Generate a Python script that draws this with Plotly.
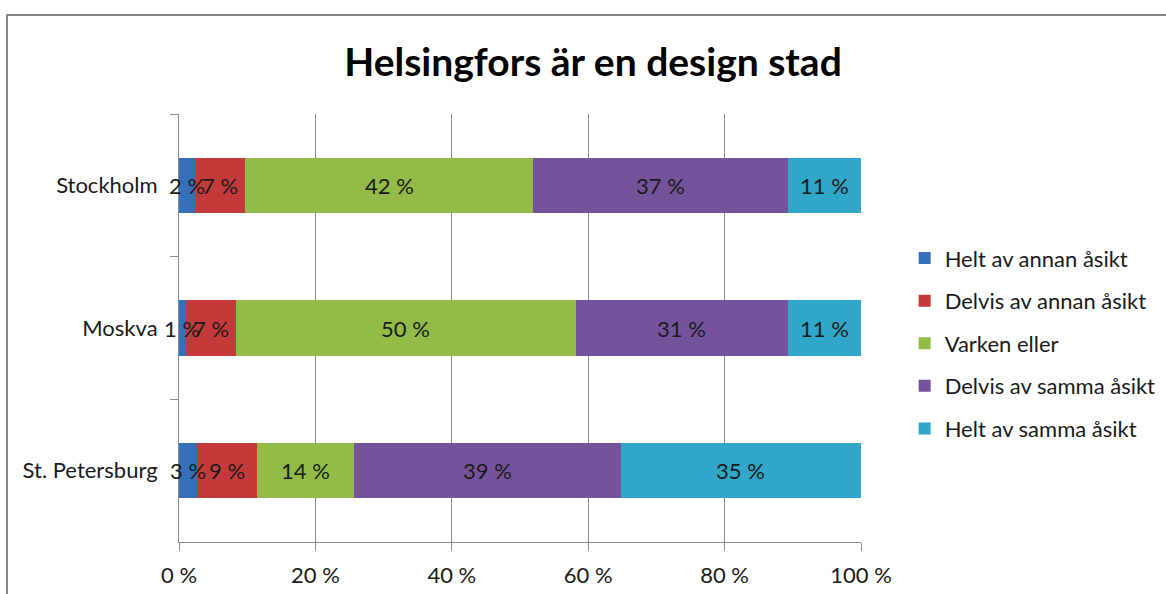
import plotly.graph_objects as go

categories = ["Stockholm", "Moskva", "St. Petersburg"]
series_names = ["Helt av annan åsikt", "Delvis av annan åsikt", "Varken eller",
                "Delvis av samma åsikt", "Helt av samma åsikt"]
helt_annan = [2.3, 1.0, 2.6]
delvis_annan = [7.4, 7.3, 8.8]
varken = [42.2, 49.9, 14.3]
delvis_samma = [37.4, 31.1, 39.1]
helt_samma = [10.7, 10.7, 35.2]
x_ticks = [0, 20, 40, 60, 80, 100]

series_values = [helt_annan, delvis_annan, varken, delvis_samma, helt_samma]
colors = ["#3670BA", "#C43A3A", "#93BB47", "#74539C", "#30A6C9"]

FONT = "Lato"
FS = 22
TXT = "#1a1a1a"
fig = go.Figure()
for name, vals, col in zip(series_names, series_values, colors):
    fig.add_trace(go.Bar(
        y=categories, x=vals, name=name, orientation="h",
        marker=dict(color=col, line=dict(width=0)),
        legendgroup=name, hoverinfo="skip",
    ))

# data labels centred in each segment (may overflow like the original)
annotations = []
for ci, cat in enumerate(categories):
    cum = 0.0
    for vals in series_values:
        v = vals[ci]
        annotations.append(dict(x=cum + v / 2, y=cat, xref="x", yref="y",
                                text=f"{round(v):d} %", showarrow=False,
                                font=dict(family=FONT, size=FS, color=TXT),
                                xanchor="center", yanchor="middle"))
        cum += v

fig.update_layout(
    width=1166, height=594,
    margin=dict(l=179, r=305, t=114, b=52, autoexpand=False),
    barmode="stack", bargap=0.61,
    paper_bgcolor="white", plot_bgcolor="white",
    font=dict(family=FONT, size=FS, color=TXT),
    title=dict(text="<b>Helsingfors är en design stad</b>",
               font=dict(family=FONT, size=39, color="#000000"),
               x=0.5086, xref="container", xanchor="center",
               y=1 - 62 / 594, yref="container", yanchor="middle"),
    legend=dict(x=1.064, y=0.712, xanchor="left", yanchor="top",
                traceorder="grouped", tracegroupgap=11,
                font=dict(family=FONT, size=FS, color=TXT),
                bgcolor="rgba(0,0,0,0)"),
    showlegend=True,
    annotations=annotations,
)
fig.update_xaxes(range=[0, 100], tickvals=x_ticks,
                 ticktext=[f"{v} %" for v in x_ticks],
                 showgrid=True, gridcolor="#8a8a8a", gridwidth=1,
                 showline=True, linecolor="#8a8a8a", linewidth=1,
                 ticks="outside", ticklen=8, tickcolor="#8a8a8a",
                 ticklabelstandoff=6, zeroline=False, automargin=False,
                 tickfont=dict(family=FONT, size=FS, color=TXT))
fig.update_yaxes(autorange="reversed", showgrid=False,
                 showline=True, linecolor="#8a8a8a", linewidth=1,
                 ticks="outside", ticklen=8, tickcolor="#8a8a8a",
                 tickson="boundaries", ticklabelstandoff=16, automargin=False,
                 tickfont=dict(family=FONT, size=FS, color=TXT))

# chart frame
fig.add_shape(type="rect", xref="paper", yref="paper",
              x0=(7 - 179) / 682, x1=2.0, y0=-1.0, y1=(542 - 15) / 428,
              line=dict(color="#868686", width=2), fillcolor="rgba(0,0,0,0)",
              layer="below")

fig.write_html("out.html")
